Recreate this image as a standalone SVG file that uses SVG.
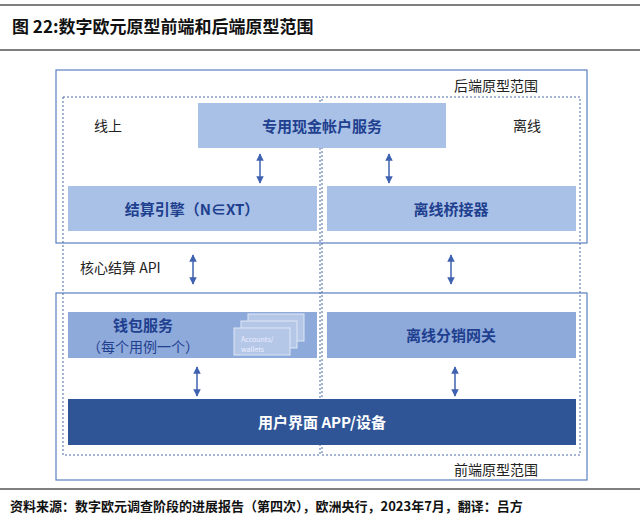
<svg xmlns="http://www.w3.org/2000/svg" width="640" height="519" viewBox="0 0 640 519">
<style>
text{font-family:"Noto Sans CJK SC","Liberation Sans",sans-serif}
.t{font-size:15px;fill:#1f3f8f;font-weight:bold;text-anchor:middle}
.k{font-size:14px;fill:#222}
.frame{fill:none;stroke:#5b7fc0;stroke-width:1.2}
.dash{fill:none;stroke:#4a6aa8;stroke-width:1;stroke-dasharray:2 2}
.arr{stroke:#3f62b0;stroke-width:1.5;marker-start:url(#a);marker-end:url(#a)}
</style>
<defs><marker id="a" viewBox="0 0 10 10" refX="9" refY="5" markerWidth="5" markerHeight="5" orient="auto-start-reverse"><path d="M0,0L10,5L0,10z" fill="#3f62b0"/></marker></defs>
<rect width="640" height="519" fill="#fff"/>
<line x1="0" y1="5" x2="640" y2="5" stroke="#555" stroke-width="1.5"/>
<text x="12" y="33" style="font-size:17px;font-weight:bold;fill:#111">图 22:数字欧元原型前端和后端原型范围</text>
<line x1="0" y1="50" x2="640" y2="50" stroke="#555" stroke-width="1.5"/>
<rect class="frame" x="56" y="70" width="531" height="173"/>
<rect class="frame" x="56" y="293" width="531" height="187"/>
<rect class="dash" x="63" y="97" width="257" height="358"/>
<rect class="dash" x="322" y="97" width="258" height="358"/>
<text class="k" x="454" y="91">后端原型范围</text>
<text class="k" x="454" y="475">前端原型范围</text>
<text class="k" x="94" y="131">线上</text>
<text class="k" x="513" y="131">离线</text>
<text class="k" x="80" y="273">核心结算 API</text>
<g id="n1"><rect x="198" y="103" width="248" height="45" fill="#a9c1e6"/><text class="t" x="322" y="132">专用现金帐户服务</text></g>
<g id="n2"><rect x="68" y="186" width="249" height="45" fill="#a9c1e6"/><text class="t" x="192" y="215">结算引擎（N∈XT）</text></g>
<g id="n3"><rect x="327" y="186" width="249" height="45" fill="#a9c1e6"/><text class="t" x="451" y="215">离线桥接器</text></g>
<g id="n4"><rect x="68" y="312" width="249" height="46" fill="#8eaadb"/><text class="t" x="143" y="331">钱包服务</text><text class="t" x="143" y="352" style="font-weight:normal;font-size:14px">（每个用例一个）</text>
<g fill="#b4c7e7" stroke="#dfe7f5" stroke-width="1"><rect x="248" y="314" width="56" height="27"/><rect x="241" y="321" width="56" height="27"/><rect x="234" y="328" width="56" height="27"/></g>
<text x="241" y="342" style="font-size:7px;fill:#eef">Accounts/</text><text x="241" y="352" style="font-size:7px;fill:#eef">wallets</text></g>
<g id="n5"><rect x="327" y="312" width="249" height="46" fill="#8eaadb"/><text class="t" x="451" y="341">离线分销网关</text></g>
<g id="n6"><rect x="68" y="399" width="508" height="46" fill="#2f5597"/><text class="t" x="322" y="428" style="fill:#fff">用户界面 APP/设备</text></g>
<g id="connectors">
<line class="arr" x1="260" y1="154" x2="260" y2="183"/>
<line class="arr" x1="389" y1="154" x2="389" y2="183"/>
<line class="arr" x1="193" y1="255" x2="193" y2="284"/>
<line class="arr" x1="451" y1="255" x2="451" y2="284"/>
<line class="arr" x1="197" y1="367" x2="197" y2="396"/>
<line class="arr" x1="455" y1="367" x2="455" y2="396"/>
</g>
<line x1="0" y1="489" x2="640" y2="489" stroke="#555" stroke-width="1.5"/>
<text x="10" y="511" style="font-size:13px;font-weight:bold;fill:#111">资料来源：数字欧元调查阶段的进展报告（第四次），欧洲央行，2023年7月，翻译：吕方</text>
</svg>
